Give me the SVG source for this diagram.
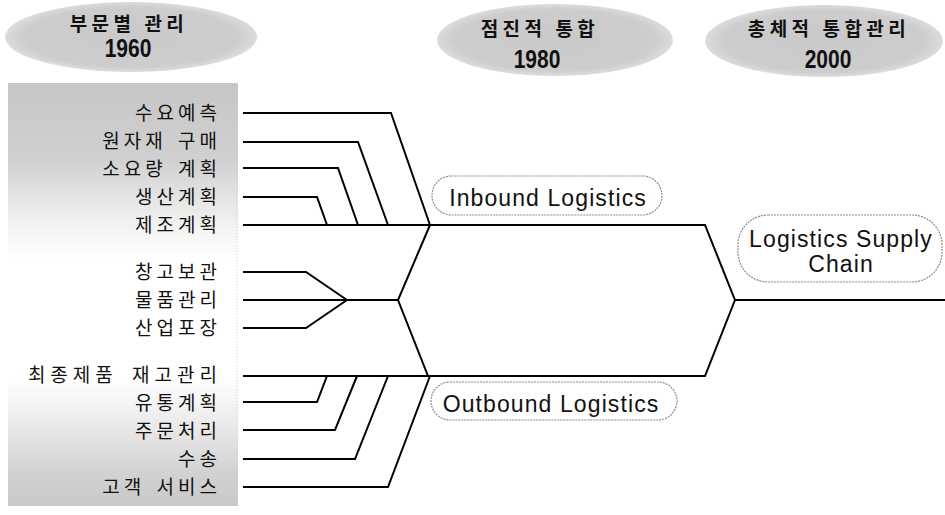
<svg xmlns="http://www.w3.org/2000/svg" width="945" height="515" viewBox="0 0 945 515">
  <style>
    .era { font-family: "Noto Sans CJK KR", "Noto Sans", sans-serif; font-size: 19px; font-weight: bold; letter-spacing: 4.5px; fill: #111; text-anchor: middle; }
    .year { font-family: "Liberation Sans", Arial, sans-serif; font-size: 21px; font-weight: bold; fill: #111; text-anchor: middle; }
    .task { font-family: "Noto Sans CJK KR", "Noto Sans", sans-serif; font-size: 19px; letter-spacing: 4px; fill: #111; text-anchor: end; }
    .wide { word-spacing: 3px; }
    .wider { word-spacing: 5px; letter-spacing: 5px; }
    .stage { font-family: "Liberation Sans", Arial, sans-serif; font-size: 23px; letter-spacing: 1.1px; fill: #111; text-anchor: middle; }
    .pill { fill: #fff; stroke: #8c8c8c; stroke-width: 1.2; stroke-dasharray: 2 1; }
    .wire { fill: none; stroke: #000; stroke-width: 2; stroke-linejoin: miter; }
  </style>
  <defs>
    <radialGradient id="ovalFill" cx="50%" cy="50%" r="50%">
      <stop offset="0" stop-color="#c9c9c9"/>
      <stop offset="0.85" stop-color="#cdcdcd"/>
      <stop offset="1" stop-color="#dcdcdc"/>
    </radialGradient>
    <linearGradient id="panelFill" x1="0" y1="0" x2="0" y2="1">
      <stop offset="0" stop-color="#c6c6c6"/>
      <stop offset="0.18" stop-color="#d0d0d0"/>
      <stop offset="0.34" stop-color="#f3f3f3"/>
      <stop offset="0.42" stop-color="#ffffff"/>
      <stop offset="0.7" stop-color="#ffffff"/>
      <stop offset="0.8" stop-color="#ececec"/>
      <stop offset="0.92" stop-color="#d2d2d2"/>
      <stop offset="1" stop-color="#c8c8c8"/>
    </linearGradient>
  </defs>

  <rect width="945" height="515" fill="#fff"/>

  <!-- era headings (years drawn slightly tall) -->
  <g id="era-1960">
    <ellipse cx="131" cy="37" rx="126" ry="35" fill="url(#ovalFill)"/>
    <text class="era" x="129" y="31">부문별 관리</text>
    <text class="year" transform="translate(128,57) scale(1,1.2)">1960</text>
  </g>
  <g id="era-1980">
    <ellipse cx="555" cy="40" rx="118" ry="36" fill="url(#ovalFill)"/>
    <text class="era" x="540" y="36">점진적 통합</text>
    <text class="year" transform="translate(537,68) scale(1,1.2)">1980</text>
  </g>
  <g id="era-2000">
    <ellipse cx="824" cy="41" rx="119" ry="36" fill="url(#ovalFill)"/>
    <text class="era" x="829" y="36">총체적 통합관리</text>
    <text class="year" transform="translate(828,68) scale(1,1.2)">2000</text>
  </g>

  <!-- functional tasks panel -->
  <g id="tasks">
    <rect x="8" y="83" width="230" height="423" fill="url(#panelFill)"/>
    <line x1="237" y1="83" x2="237" y2="506" stroke="#d0d0d0" stroke-width="1" stroke-dasharray="1 2"/>
    <text class="task" x="221" y="120">수요예측</text>
    <text class="task wide" x="221" y="148">원자재 구매</text>
    <text class="task wide" x="221" y="176">소요량 계획</text>
    <text class="task" x="221" y="204">생산계획</text>
    <text class="task" x="221" y="232">제조계획</text>
    <text class="task" x="221" y="279">창고보관</text>
    <text class="task" x="221" y="307">물품관리</text>
    <text class="task" x="221" y="335">산업포장</text>
    <text class="task wider" x="222" y="382">최종제품 재고관리</text>
    <text class="task" x="221" y="410">유통계획</text>
    <text class="task" x="221" y="438">주문처리</text>
    <text class="task" x="221" y="466">수송</text>
    <text class="task wide" x="221" y="494">고객 서비스</text>
  </g>

  <!-- connectors -->
  <g id="connectors" class="wire">
    <path d="M243,113 H391 L430,225"/>
    <path d="M243,142 H358 L388,225"/>
    <path d="M243,168 H338 L358,225"/>
    <path d="M243,197 H317 L327,225"/>
    <path d="M243,225 H705 L735,300 H945"/>
    <path d="M243,272 H306 L347,300"/>
    <path d="M243,300 H398"/>
    <path d="M243,328 H306 L347,300"/>
    <path d="M430,225 L398,300 L428,376"/>
    <path d="M243,376 H705 L735,300"/>
    <path d="M243,402 H317 L327,376"/>
    <path d="M243,430 H335 L357,376"/>
    <path d="M243,459 H355 L388,376"/>
    <path d="M243,487 H388 L430,376"/>
  </g>

  <!-- integration stages -->
  <g id="inbound">
    <rect class="pill" x="432" y="176" width="230" height="39" rx="19.5"/>
    <text class="stage" x="548" y="206">Inbound Logistics</text>
  </g>
  <g id="outbound">
    <rect class="pill" x="431" y="382" width="246" height="38" rx="19"/>
    <text class="stage" x="551" y="412">Outbound Logistics</text>
  </g>
  <g id="supply-chain">
    <rect class="pill" x="738" y="215" width="204" height="67" rx="30"/>
    <text class="stage" x="841" y="247">Logistics Supply</text>
    <text class="stage" x="841" y="272">Chain</text>
  </g>
</svg>
